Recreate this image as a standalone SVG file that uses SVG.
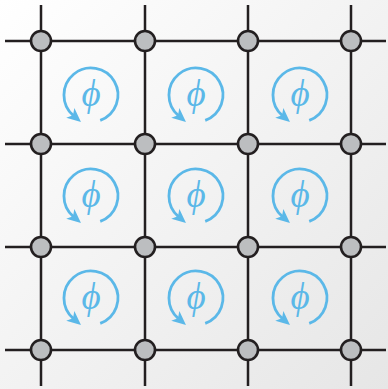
<svg xmlns="http://www.w3.org/2000/svg" xmlns:xlink="http://www.w3.org/1999/xlink" width="388" height="389" viewBox="0 0 388 389">
<defs>
<linearGradient id="bg" x1="0" y1="0" x2="1" y2="1">
<stop offset="0" stop-color="#ffffff"/>
<stop offset="1" stop-color="#e6e6e6"/>
</linearGradient>
<marker id="ah" viewBox="0 0 10 10" refX="3" refY="5" markerWidth="5" markerHeight="5" orient="auto" markerUnits="strokeWidth">
<path d="M0,0.5 L10,5 L0,9.5 L2.5,5 z" fill="#5bb8e8"/>
</marker>
<g id="swirl">
<path d="M9.23,25.37 A27,27 0 1 0 -17.5,20.6" fill="none" stroke="#5bb8e8" stroke-width="2.8" marker-end="url(#ah)"/>
<text x="0" y="11" text-anchor="middle" class="phi">ϕ</text>
</g>
</defs>
<style>
.grid line{stroke:#231f20;stroke-width:2.5}
.node circle{fill:#bcbec0;stroke:#231f20;stroke-width:2.6}
.phi{font-family:"Liberation Serif","DejaVu Serif",serif;font-style:italic;font-size:37px;fill:#5bb8e8}
</style>
<rect width="388" height="389" fill="url(#bg)"/>
<g id="connectors" class="grid">
<line x1="41" y1="5" x2="41" y2="386"/>
<line x1="145" y1="5" x2="145" y2="386"/>
<line x1="248" y1="5" x2="248" y2="386"/>
<line x1="351" y1="5" x2="351" y2="386"/>
<line x1="5" y1="41" x2="386" y2="41"/>
<line x1="5" y1="144" x2="386" y2="144"/>
<line x1="5" y1="247" x2="386" y2="247"/>
<line x1="5" y1="350" x2="386" y2="350"/>
</g>
<g id="cells">
<g id="cell-1-1"><use xlink:href="#swirl" transform="translate(91,95)"/></g>
<g id="cell-1-2"><use xlink:href="#swirl" transform="translate(196,95)"/></g>
<g id="cell-1-3"><use xlink:href="#swirl" transform="translate(300,95)"/></g>
<g id="cell-2-1"><use xlink:href="#swirl" transform="translate(91,196)"/></g>
<g id="cell-2-2"><use xlink:href="#swirl" transform="translate(196,196)"/></g>
<g id="cell-2-3"><use xlink:href="#swirl" transform="translate(300,196)"/></g>
<g id="cell-3-1"><use xlink:href="#swirl" transform="translate(91,298)"/></g>
<g id="cell-3-2"><use xlink:href="#swirl" transform="translate(196,298)"/></g>
<g id="cell-3-3"><use xlink:href="#swirl" transform="translate(300,298)"/></g>
</g>
<g id="nodes">
<g id="n-1-1" class="node"><circle cx="41" cy="41" r="10"/></g>
<g id="n-1-2" class="node"><circle cx="145" cy="41" r="10"/></g>
<g id="n-1-3" class="node"><circle cx="248" cy="41" r="10"/></g>
<g id="n-1-4" class="node"><circle cx="351" cy="41" r="10"/></g>
<g id="n-2-1" class="node"><circle cx="41" cy="144" r="10"/></g>
<g id="n-2-2" class="node"><circle cx="145" cy="144" r="10"/></g>
<g id="n-2-3" class="node"><circle cx="248" cy="144" r="10"/></g>
<g id="n-2-4" class="node"><circle cx="351" cy="144" r="10"/></g>
<g id="n-3-1" class="node"><circle cx="41" cy="247" r="10"/></g>
<g id="n-3-2" class="node"><circle cx="145" cy="247" r="10"/></g>
<g id="n-3-3" class="node"><circle cx="248" cy="247" r="10"/></g>
<g id="n-3-4" class="node"><circle cx="351" cy="247" r="10"/></g>
<g id="n-4-1" class="node"><circle cx="41" cy="350" r="10"/></g>
<g id="n-4-2" class="node"><circle cx="145" cy="350" r="10"/></g>
<g id="n-4-3" class="node"><circle cx="248" cy="350" r="10"/></g>
<g id="n-4-4" class="node"><circle cx="351" cy="350" r="10"/></g>
</g>
</svg>
